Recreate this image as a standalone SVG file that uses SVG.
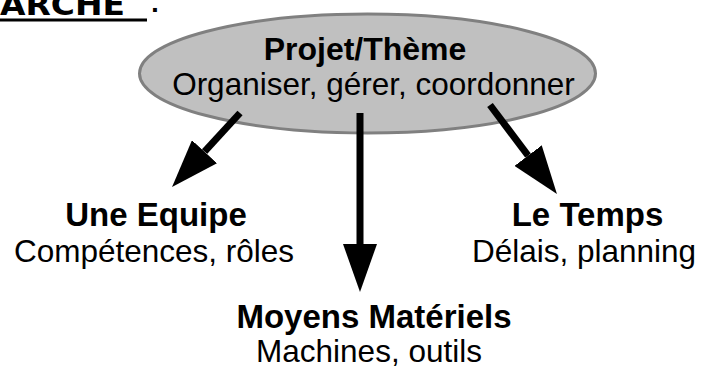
<svg xmlns="http://www.w3.org/2000/svg" width="716" height="372" viewBox="0 0 716 372">
  <style>
    text { font-family: "Liberation Sans", Arial, sans-serif; fill: #000; text-anchor: middle; }
    .b { font-weight: bold; font-size: 33px; }
    .r { font-size: 31.5px; }
    .conn { stroke: #000; stroke-width: 7; fill: none; marker-end: url(#ah); }
  </style>
  <defs>
    <marker id="ah" viewBox="0 0 48 34" refX="0" refY="17" markerWidth="48" markerHeight="34" markerUnits="userSpaceOnUse" orient="auto">
      <path d="M0,0 L48,17 L0,34 Z" fill="#000"/>
    </marker>
  </defs>
  <rect width="716" height="372" fill="#fff"/>
  <g id="title">
    <text x="0" y="15" style="font-family:'DejaVu Sans', sans-serif; font-weight:bold; font-size:30px; text-anchor:start" textLength="125" lengthAdjust="spacingAndGlyphs">ARCHE</text>
    <line x1="0" y1="20" x2="147" y2="20" stroke="#000" stroke-width="3"/>
    <text x="155" y="12" style="font-family:'DejaVu Sans', sans-serif; font-weight:bold; font-size:22px">.</text>
  </g>
  <g id="projet">
    <ellipse cx="367.5" cy="73.5" rx="228" ry="59.5" fill="#c0c0c0" stroke="#808080" stroke-width="3"/>
    <text class="b" x="365" y="60" style="font-size:32px">Projet/Thème</text>
    <text class="r" x="373.5" y="95">Organiser, gérer, coordonner</text>
  </g>
  <g id="connectors">
    <line class="conn" x1="240" y1="113" x2="204.5" y2="151.7"/>
    <line class="conn" x1="360" y1="113" x2="360" y2="244"/>
    <line class="conn" x1="490" y1="105" x2="528.1" y2="155.6"/>
  </g>
  <g id="equipe">
    <text class="b" x="156" y="226">Une Equipe</text>
    <text class="r" x="154" y="262">Compétences, rôles</text>
  </g>
  <g id="temps">
    <text class="b" x="587.5" y="226">Le Temps</text>
    <text class="r" x="584" y="262">Délais, planning</text>
  </g>
  <g id="moyens">
    <text class="b" x="374" y="328">Moyens Matériels</text>
    <text class="r" x="369" y="362">Machines, outils</text>
  </g>
</svg>
